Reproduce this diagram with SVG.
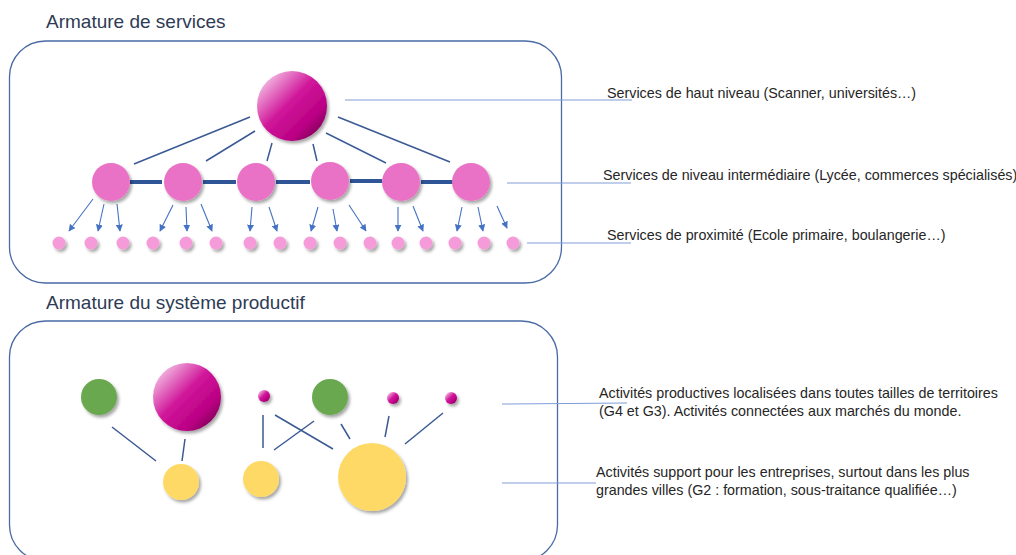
<svg xmlns="http://www.w3.org/2000/svg" width="1016" height="555" viewBox="0 0 1016 555">
<style>
.title{font-family:"Liberation Sans",Arial,sans-serif;font-size:19px;fill:#2E3B55}
.lbl{font-family:"Liberation Sans",Arial,sans-serif;font-size:14.3px;fill:#262626}
.box{fill:none;stroke:#4A6AA5;stroke-width:1.3}
.thin{stroke:#3B5A94;stroke-width:1.5;fill:none}
.thick{stroke:#2F5597;stroke-width:4;fill:none}
.arr{stroke:#4472C4;stroke-width:1.1;fill:none;marker-end:url(#ah)}
.lead{stroke:#7F9ED8;stroke-width:1.1;fill:none}
.mag{fill:url(#gMag);filter:url(#sh)}
.mid{fill:#EA72C6;filter:url(#sh)}
.sm{fill:#F59BD9;filter:url(#sh)}
.grn{fill:#6AA84F;filter:url(#sh)}
.yel{fill:#FFD966;filter:url(#sh)}
</style>
<defs>
<linearGradient id="gMag" x1="0.12" y1="0.12" x2="0.88" y2="0.88">
<stop offset="0" stop-color="#F2B6E0"/>
<stop offset="0.45" stop-color="#D0169A"/>
<stop offset="0.8" stop-color="#BB0084"/>
<stop offset="1" stop-color="#86005C"/>
</linearGradient>
<filter id="sh" x="-30%" y="-30%" width="170%" height="170%">
<feDropShadow dx="2" dy="2.5" stdDeviation="1.5" flood-color="#000" flood-opacity="0.35"/>
</filter>
<marker id="ah" viewBox="0 0 10 10" refX="9" refY="5" markerWidth="7" markerHeight="7" orient="auto" markerUnits="userSpaceOnUse">
<path d="M0,0 L10,5 L0,10 z" fill="#4472C4"/>
</marker>
</defs>

<text class="title" x="46" y="28">Armature de services</text>
<rect class="box" x="9.5" y="41" width="552" height="242" rx="36"/>

<text class="title" x="46" y="309">Armature du système productif</text>
<rect class="box" x="9.5" y="321" width="548" height="240" rx="36"/>

<g id="connectors">
<line class="thin" x1="250" y1="117" x2="134" y2="164"/>
<line class="thin" x1="255" y1="131" x2="206" y2="161"/>
<line class="thin" x1="272" y1="143" x2="267" y2="161"/>
<line class="thin" x1="313" y1="144" x2="317" y2="161"/>
<line class="thin" x1="326" y1="133" x2="386" y2="163"/>
<line class="thin" x1="338" y1="117" x2="450" y2="162"/>

<line class="thick" x1="130" y1="182" x2="162" y2="182"/>
<line class="thick" x1="203" y1="182" x2="236" y2="182"/>
<line class="thick" x1="276" y1="182" x2="310" y2="182"/>
<line class="thick" x1="350" y1="181" x2="382" y2="181"/>
<line class="thick" x1="421" y1="182" x2="453" y2="182"/>

<line class="arr" x1="93" y1="199" x2="69" y2="231"/>
<line class="arr" x1="104" y1="204" x2="98" y2="231"/>
<line class="arr" x1="117" y1="204" x2="120" y2="231"/>
<line class="arr" x1="173" y1="205" x2="160" y2="231"/>
<line class="arr" x1="186" y1="207" x2="187" y2="231"/>
<line class="arr" x1="201" y1="204" x2="212" y2="231"/>
<line class="arr" x1="252" y1="207" x2="250" y2="231"/>
<line class="arr" x1="269" y1="207" x2="277" y2="231"/>
<line class="arr" x1="318" y1="207" x2="311" y2="231"/>
<line class="arr" x1="333" y1="209" x2="337" y2="231"/>
<line class="arr" x1="349" y1="205" x2="366" y2="231"/>
<line class="arr" x1="398" y1="207" x2="398" y2="231"/>
<line class="arr" x1="413" y1="206" x2="423" y2="231"/>
<line class="arr" x1="462" y1="207" x2="457" y2="231"/>
<line class="arr" x1="478" y1="207" x2="483" y2="231"/>
<line class="arr" x1="497" y1="206" x2="507" y2="228"/>

<line class="lead" x1="345" y1="100" x2="632" y2="100"/>
<line class="lead" x1="507" y1="183" x2="631" y2="183"/>
<line class="lead" x1="527" y1="243" x2="631" y2="243"/>

<line class="thin" x1="112" y1="427" x2="156" y2="461"/>
<line class="thin" x1="185" y1="439" x2="182" y2="461"/>
<line class="thin" x1="263" y1="415" x2="263" y2="448"/>
<line class="thin" x1="275" y1="415" x2="333" y2="449"/>
<line class="thin" x1="314" y1="421" x2="274" y2="450"/>
<line class="thin" x1="341" y1="424" x2="350" y2="439"/>
<line class="thin" x1="389" y1="416" x2="385" y2="437"/>
<line class="thin" x1="443" y1="413" x2="405" y2="444"/>

<line class="lead" x1="502" y1="404" x2="627" y2="403"/>
<line class="lead" x1="502" y1="483" x2="596" y2="483"/>
</g>

<g id="n-top"><circle class="mag" cx="292" cy="106" r="35"/></g>
<g id="n-mid1"><circle class="mid" cx="111" cy="182" r="19"/></g>
<g id="n-mid2"><circle class="mid" cx="183" cy="182" r="19"/></g>
<g id="n-mid3"><circle class="mid" cx="256" cy="182" r="19"/></g>
<g id="n-mid4"><circle class="mid" cx="330" cy="181" r="19"/></g>
<g id="n-mid5"><circle class="mid" cx="401" cy="182" r="19"/></g>
<g id="n-mid6"><circle class="mid" cx="471" cy="182" r="19"/></g>

<g id="n-small">
<circle class="sm" cx="59" cy="243" r="6.5"/>
<circle class="sm" cx="91" cy="243" r="6.5"/>
<circle class="sm" cx="123" cy="243" r="6.5"/>
<circle class="sm" cx="153" cy="243" r="6.5"/>
<circle class="sm" cx="186" cy="243" r="6.5"/>
<circle class="sm" cx="216" cy="243" r="6.5"/>
<circle class="sm" cx="250" cy="243" r="6.5"/>
<circle class="sm" cx="280" cy="243" r="6.5"/>
<circle class="sm" cx="310" cy="243" r="6.5"/>
<circle class="sm" cx="340" cy="243" r="6.5"/>
<circle class="sm" cx="370" cy="243" r="6.5"/>
<circle class="sm" cx="398" cy="243" r="6.5"/>
<circle class="sm" cx="426" cy="243" r="6.5"/>
<circle class="sm" cx="455" cy="243" r="6.5"/>
<circle class="sm" cx="484" cy="243" r="6.5"/>
<circle class="sm" cx="513" cy="243" r="6.5"/>
</g>

<g id="lbl-services">
<text class="lbl" x="607" y="98">Services de haut niveau (Scanner, universités…)</text>
<text class="lbl" x="603" y="180">Services de niveau intermédiaire (Lycée, commerces spécialisés)</text>
<text class="lbl" x="607" y="240">Services de proximité (Ecole primaire, boulangerie…)</text>
</g>

<g id="n-green1"><circle class="grn" cx="99" cy="397" r="18"/></g>
<g id="n-mag-big"><circle class="mag" cx="187" cy="397" r="34"/></g>
<g id="n-mag-s1"><circle class="mag" cx="264" cy="396" r="6"/></g>
<g id="n-green2"><circle class="grn" cx="330" cy="397" r="18"/></g>
<g id="n-mag-s2"><circle class="mag" cx="393" cy="398" r="6"/></g>
<g id="n-mag-s3"><circle class="mag" cx="451" cy="398" r="6"/></g>
<g id="n-yel1"><circle class="yel" cx="181" cy="482" r="18"/></g>
<g id="n-yel2"><circle class="yel" cx="261" cy="479" r="18"/></g>
<g id="n-yel3"><circle class="yel" cx="372" cy="477" r="34"/></g>

<g id="lbl-prod">
<text class="lbl" x="599" y="398">Activités productives localisées dans toutes tailles de territoires</text>
<text class="lbl" x="599" y="416">(G4 et G3). Activités connectées aux marchés du monde.</text>
<text class="lbl" x="596" y="477">Activités support pour les entreprises, surtout dans les plus</text>
<text class="lbl" x="596" y="495">grandes villes (G2 : formation, sous-traitance qualifiée…)</text>
</g>
</svg>
